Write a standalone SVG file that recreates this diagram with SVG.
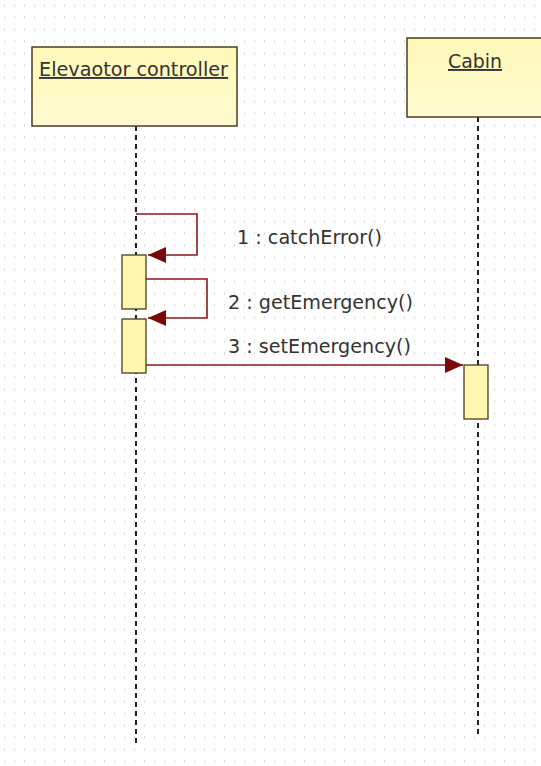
<svg xmlns="http://www.w3.org/2000/svg" width="541" height="766" viewBox="0 0 541 766">
<style>
.obj{fill:url(#yel);stroke:#4a3c22;stroke-width:1.5}
.act{fill:#fff7b0;stroke:#4a3c22;stroke-width:1.3}
.life{stroke:#222;stroke-width:2;stroke-dasharray:5,4;fill:none}
.msg{stroke:#8a1a1a;stroke-width:1.6;fill:none}
.name{font-family:"DejaVu Sans","Liberation Sans",sans-serif;font-size:19px;fill:#333;text-decoration:underline}
.lbl{font-family:"DejaVu Sans","Liberation Sans",sans-serif;font-size:19px;fill:#333}
</style>
<defs>
<pattern id="grid" width="10" height="12" patternUnits="userSpaceOnUse">
<rect x="4" y="4" width="1" height="3" fill="#e0e0e0"/>
</pattern>
<linearGradient id="yel" x1="0" y1="0" x2="0" y2="1">
<stop offset="0" stop-color="#fff8b8"/>
<stop offset="1" stop-color="#fffad0"/>
</linearGradient>
<marker id="arr" viewBox="0 0 18 16" refX="18" refY="8" markerWidth="18" markerHeight="16" markerUnits="userSpaceOnUse" orient="auto">
<path d="M0,0 L18,8 L0,16 Z" fill="#7a0a0a"/>
</marker>
</defs>
<rect width="541" height="766" fill="#ffffff"/>
<rect width="541" height="766" fill="url(#grid)"/>
<g id="controller">
<line class="life" x1="136" y1="126" x2="136" y2="743"/>
<rect class="obj" x="32" y="47" width="205" height="79"/>
<text class="name" x="39" y="76" textLength="189" lengthAdjust="spacingAndGlyphs">Elevaotor controller</text>
<rect class="act" x="122" y="255" width="24" height="54"/>
<rect class="act" x="122" y="319" width="24" height="54"/>
</g>
<g id="cabin">
<line class="life" x1="478" y1="117" x2="478" y2="735"/>
<rect class="obj" x="407" y="38" width="140" height="79"/>
<text class="name" x="448" y="68" textLength="54" lengthAdjust="spacingAndGlyphs">Cabin</text>
<rect class="act" x="464" y="365" width="24" height="54"/>
</g>
<g id="connectors">
<polyline class="msg" points="136,214 197,214 197,255 148,255" marker-end="url(#arr)"/>
<text class="lbl" x="237" y="244" textLength="145" lengthAdjust="spacingAndGlyphs">1 : catchError()</text>
<polyline class="msg" points="146,279 207,279 207,318 148,318" marker-end="url(#arr)"/>
<text class="lbl" x="228" y="309" textLength="185" lengthAdjust="spacingAndGlyphs">2 : getEmergency()</text>
<line class="msg" x1="146" y1="365" x2="463" y2="365" marker-end="url(#arr)"/>
<text class="lbl" x="228" y="353" textLength="183" lengthAdjust="spacingAndGlyphs">3 : setEmergency()</text>
</g>
</svg>
